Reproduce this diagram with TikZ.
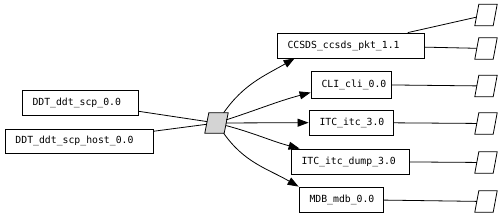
\documentclass[tikz,border=0pt]{standalone}
\usepackage{fontspec}
\newfontfamily\pkgfont{DejaVu Sans Mono}
\usetikzlibrary{arrows.meta}

\begin{document}
\begin{tikzpicture}[
  x=1pt,y=-1pt,
  every node/.style={font=\pkgfont\fontsize{9.8}{11}\selectfont},
  pkg/.style={draw,line width=0.8pt,minimum height=25pt,inner xsep=10.5pt,inner ysep=0pt,align=left},
  port/.style={minimum width=18pt,minimum height=21pt,inner sep=0pt},
  link/.style={line width=0.8pt},
  arrow/.style={line width=0.8pt,-{Triangle[length=11pt,width=8pt]}}
]
  \useasboundingbox (0,0) rectangle (504,217);
  % packages on the left
  \node[pkg,text width=95pt] (scp) at (80,102.5) {DDT\_ddt\_scp\_0.0};
  \node[pkg,text width=127pt,minimum height=24pt] (scphost) at (79,141) {DDT\_ddt\_scp\_host\_0.0};
  % hub
  \node[port,minimum width=19pt,minimum height=20pt] (hub) at (216.5,123) {};
  % packages on the right
  \node[pkg,text width=126pt] (ccsds) at (350.5,45.5) {CCSDS\_ccsds\_pkt\_1.1};
  \node[pkg,text width=59pt,minimum height=27pt] (cli) at (351,84.5) {CLI\_cli\_0.0};
  \node[pkg,text width=63pt] (itc) at (351,122.5) {ITC\_itc\_3.0};
  \node[pkg,text width=97pt] (itcdump) at (350,161.5) {ITC\_itc\_dump\_3.0};
  \node[pkg,text width=63pt] (mdb) at (341,199.5) {MDB\_mdb\_0.0};
  % end points
  \node[port] (end1) at (486,15) {};
  \node[port] (end2) at (486,48.5) {};
  \node[port] (end3) at (486,86) {};
  \node[port] (end4) at (486,123.5) {};
  \node[port] (end5) at (486,162.5) {};
  \node[port] (end6) at (486,201.5) {};
  % slanted outlines
  \filldraw[link,fill=black!17] ([xshift=2pt]hub.north west) -- ([xshift=2pt]hub.north east)
    -- ([xshift=-2pt]hub.south east) -- ([xshift=-2pt]hub.south west) -- cycle;
  \foreach \p in {end1,end2,end3,end4,end5,end6}
    \draw[link] ([xshift=2pt]\p.north west) -- ([xshift=2pt]\p.north east)
      -- ([xshift=-2pt]\p.south east) -- ([xshift=-2pt]\p.south west) -- cycle;

  \draw[link] (scp) -- (hub);
  \draw[link] (scphost) -- (hub);
  \draw[arrow] (hub) to[out=55,in=210] ([xshift=18pt]ccsds.south west);
  \draw[arrow] (hub) to[out=18,in=195] ([yshift=-8pt]cli.west);
  \draw[arrow] (hub) -- (itc);
  \draw[arrow] (hub) to[out=-15,in=165] ([xshift=9pt]itcdump.north west);
  \draw[arrow] (hub) to[out=-55,in=150] (mdb.north west);
  \draw[link] (ccsds) -- (end1);
  \draw[link] (ccsds) -- (end2);
  \draw[link] (cli) -- (end3);
  \draw[link] (itc) -- (end4);
  \draw[link] (itcdump) -- (end5);
  \draw[link] (mdb) -- (end6);
\end{tikzpicture}
\end{document}
